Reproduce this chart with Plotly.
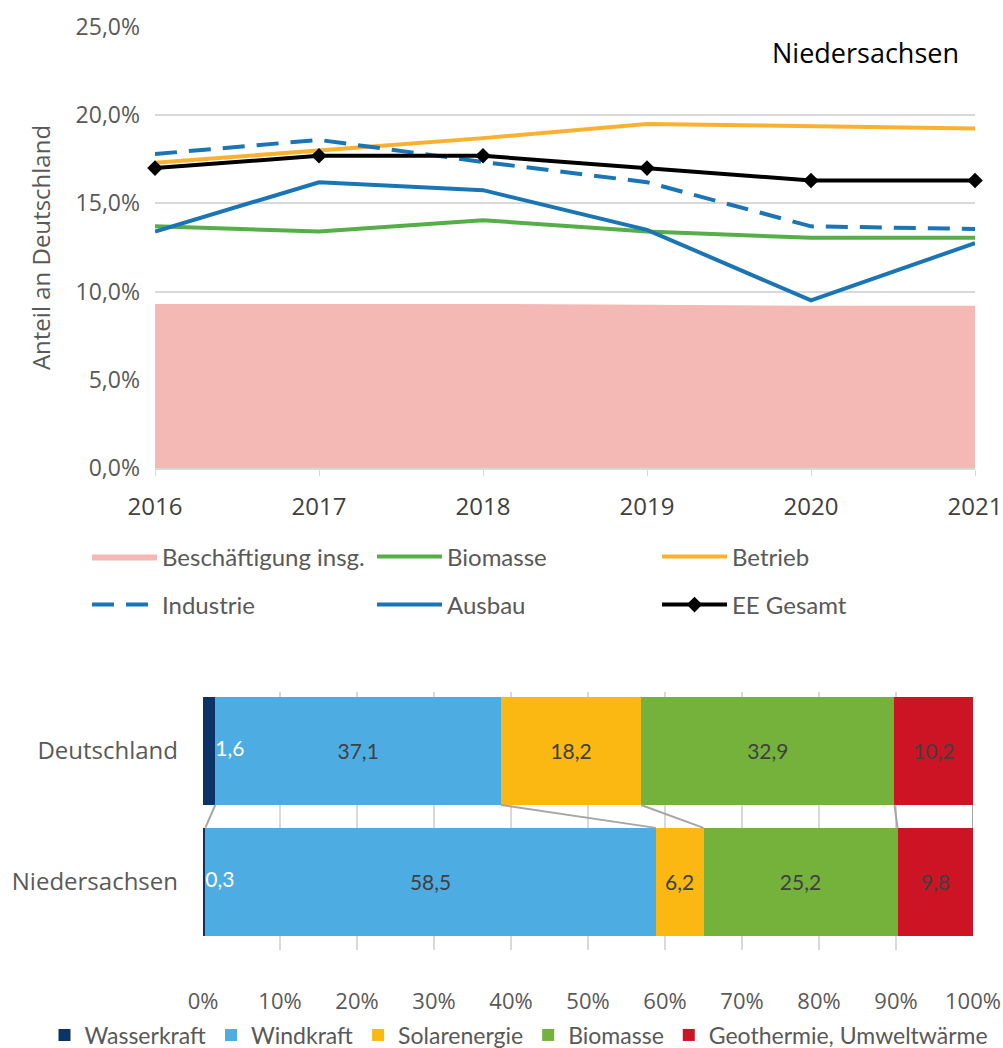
import plotly.graph_objects as go

# ---------------- data: top chart ----------------
years = [2016, 2017, 2018, 2019, 2020, 2021]
beschaeftigung = [9.3, 9.3, 9.3, 9.25, 9.2, 9.2]
biomasse_line = [13.7, 13.4, 14.05, 13.4, 13.05, 13.05]
betrieb = [17.3, 18.0, 18.7, 19.5, 19.4, 19.25]
industrie = [17.8, 18.6, 17.35, 16.2, 13.7, 13.55]
ausbau = [13.4, 16.2, 15.75, 13.5, 9.5, 12.75]
ee_gesamt = [17.0, 17.7, 17.7, 17.0, 16.3, 16.3]

# ---------------- data: bottom chart ----------------
regions = ["Niedersachsen", "Deutschland"]
wasserkraft = [0.3, 1.6]
windkraft = [58.5, 37.1]
solarenergie = [6.2, 18.2]
biomasse_bar = [25.2, 32.9]
geothermie = [9.8, 10.2]

W, H = 1003, 1048
SEGOE = "Open Sans, Noto Sans, sans-serif"
CALIBRI = "Lato, sans-serif"
GRAY = "#595959"
GRID = "#d9d9d9"


def px_x(p):
    return p / W


def px_y(p):
    return 1 - p / H


def fmt(v):
    return f"{v:.1f}".replace(".", ",")


fig = go.Figure()

# ---- top chart traces ----
fig.add_trace(go.Scatter(x=years, y=beschaeftigung, name="Beschäftigung insg.",
                         fill="tozeroy", fillcolor="#f4b9b5", mode="lines",
                         line=dict(width=0, color="#f4b9b5"),
                         xaxis="x", yaxis="y", legend="legend"))
fig.add_trace(go.Scatter(x=years, y=biomasse_line, name="Biomasse", mode="lines",
                         line=dict(width=4, color="#55ae47"),
                         xaxis="x", yaxis="y", legend="legend"))
fig.add_trace(go.Scatter(x=years, y=betrieb, name="Betrieb", mode="lines",
                         line=dict(width=4, color="#fbb130"),
                         xaxis="x", yaxis="y", legend="legend"))
fig.add_trace(go.Scatter(x=years, y=industrie, name="Industrie", mode="lines",
                         line=dict(width=4, color="#1a75b4", dash="22px,12px"),
                         xaxis="x", yaxis="y", legend="legend3"))
fig.add_trace(go.Scatter(x=years, y=ausbau, name="Ausbau", mode="lines",
                         line=dict(width=4, color="#1a75b4"),
                         xaxis="x", yaxis="y", legend="legend3"))
fig.add_trace(go.Scatter(x=years, y=ee_gesamt, name="EE Gesamt", mode="lines+markers",
                         line=dict(width=4, color="#000000"),
                         marker=dict(symbol="diamond", size=12, color="#000000"),
                         cliponaxis=False,
                         xaxis="x", yaxis="y", legend="legend3"))

# ---- bottom chart traces ----
ypos = [0, 1]
bar_w = 0.825
bar_series = [
    ("Wasserkraft", wasserkraft, "#0c3366"),
    ("Windkraft", windkraft, "#4dade2"),
    ("Solarenergie", solarenergie, "#fbb813"),
    ("Biomasse", biomasse_bar, "#74b23b"),
    ("Geothermie, Umweltwärme", geothermie, "#cc1424"),
]
for name, vals, col in bar_series:
    show_text = name != "Wasserkraft"
    fig.add_trace(go.Bar(
        x=vals, y=ypos, orientation="h", name=name, width=bar_w,
        marker=dict(color=col, line=dict(width=0)),
        text=[fmt(v) for v in vals] if show_text else None,
        textposition="inside" if show_text else "none",
        insidetextanchor="middle",
        textfont=dict(family=CALIBRI, size=21, color="#404040"),
        textangle=0, cliponaxis=False,
        xaxis="x2", yaxis="y2", legend="legend2"))

# white labels for the thin Wasserkraft segment
fig.add_trace(go.Scatter(
    x=wasserkraft, y=ypos, mode="text", text=[fmt(v) for v in wasserkraft],
    textposition="middle right",
    textfont=dict(family=CALIBRI, size=21, color="#ffffff"),
    showlegend=False, hoverinfo="skip", cliponaxis=False,
    xaxis="x2", yaxis="y2"))

# connector lines between cumulative boundaries
cum_n, cum_d = [], []
sn = sd = 0.0
for _, vals, _ in bar_series:
    sn += vals[0]
    sd += vals[1]
    cum_n.append(sn)
    cum_d.append(sd)
for cn, cd in zip(cum_n, cum_d):
    fig.add_trace(go.Scatter(
        x=[cd, cn], y=[1 - bar_w / 2, 0 + bar_w / 2], mode="lines",
        line=dict(color="#a6a6a6", width=2), showlegend=False,
        hoverinfo="skip", cliponaxis=False, xaxis="x2", yaxis="y2"))

fig.update_layout(
    width=W, height=H,
    margin=dict(l=0, r=0, t=0, b=0, autoexpand=False),
    paper_bgcolor="white", plot_bgcolor="white",
    separators=",.",
    barmode="stack",
    font=dict(family=SEGOE, color=GRAY),
    xaxis=dict(domain=[px_x(155), px_x(975)], range=[2016, 2021],
               tickvals=years, ticktext=[str(y) for y in years],
               showgrid=False, zeroline=False, showline=True, linecolor=GRID,
               linewidth=1.5, ticks="outside", ticklen=6, tickcolor=GRID,
               tickfont=dict(family=SEGOE, size=24, color="#404040"),
               ticklabelstandoff=10, anchor="y", automargin=False),
    yaxis=dict(domain=[px_y(468), px_y(27)], range=[0, 25], dtick=5,
               tickformat=".1f", ticksuffix="%",
               showgrid=True, gridcolor=GRID, gridwidth=1.5, zeroline=False,
               tickfont=dict(family=SEGOE, size=23, color=GRAY),
               ticklabelstandoff=14,
               title=dict(text="Anteil an Deutschland",
                          font=dict(family=SEGOE, size=24, color=GRAY),
                          standoff=18),
               anchor="x", automargin=False),
    xaxis2=dict(domain=[px_x(203), px_x(973)], range=[0, 100.0001],
                tick0=0, dtick=10, tickformat=".0f", ticksuffix="%",
                showgrid=True, gridcolor=GRID, gridwidth=1.5, zeroline=False,
                showline=False,
                tickfont=dict(family=SEGOE, size=22, color=GRAY),
                ticklabelstandoff=36, anchor="y2", automargin=False),
    yaxis2=dict(domain=[px_y(950), px_y(692)], range=[-0.52, 1.45],
                tickvals=ypos, ticktext=regions, showgrid=False,
                zeroline=False, showline=False,
                tickfont=dict(family=SEGOE, size=24, color=GRAY),
                ticklabelstandoff=24, anchor="x2", automargin=False),
    legend=dict(orientation="h", x=px_x(87), xanchor="left",
                y=px_y(557), yanchor="middle",
                entrywidth=205, entrywidthmode="pixels", itemwidth=65,
                font=dict(family=CALIBRI, size=24, color=GRAY),
                bgcolor="rgba(0,0,0,0)"),
    legend3=dict(orientation="h", x=px_x(87), xanchor="left",
                 y=px_y(605), yanchor="middle",
                 entrywidth=205, entrywidthmode="pixels", itemwidth=65,
                 font=dict(family=CALIBRI, size=24, color=GRAY),
                 bgcolor="rgba(0,0,0,0)"),
    legend2=dict(orientation="h", x=px_x(519), xanchor="center",
                 y=px_y(1035), yanchor="middle",
                 font=dict(family=CALIBRI, size=23, color=GRAY),
                 itemwidth=30, traceorder="normal",
                 bgcolor="rgba(0,0,0,0)"),
    annotations=[dict(text="Niedersachsen", xref="paper", yref="paper",
                      x=px_x(865), y=px_y(53), xanchor="center", yanchor="middle",
                      showarrow=False,
                      font=dict(family=SEGOE, size=27, color="#000000"))],
)

fig.write_html("out.html",
               config={"displayModeBar": False},
               post_script="document.body.style.margin='0';"
                           "document.body.style.overflow='hidden';")
